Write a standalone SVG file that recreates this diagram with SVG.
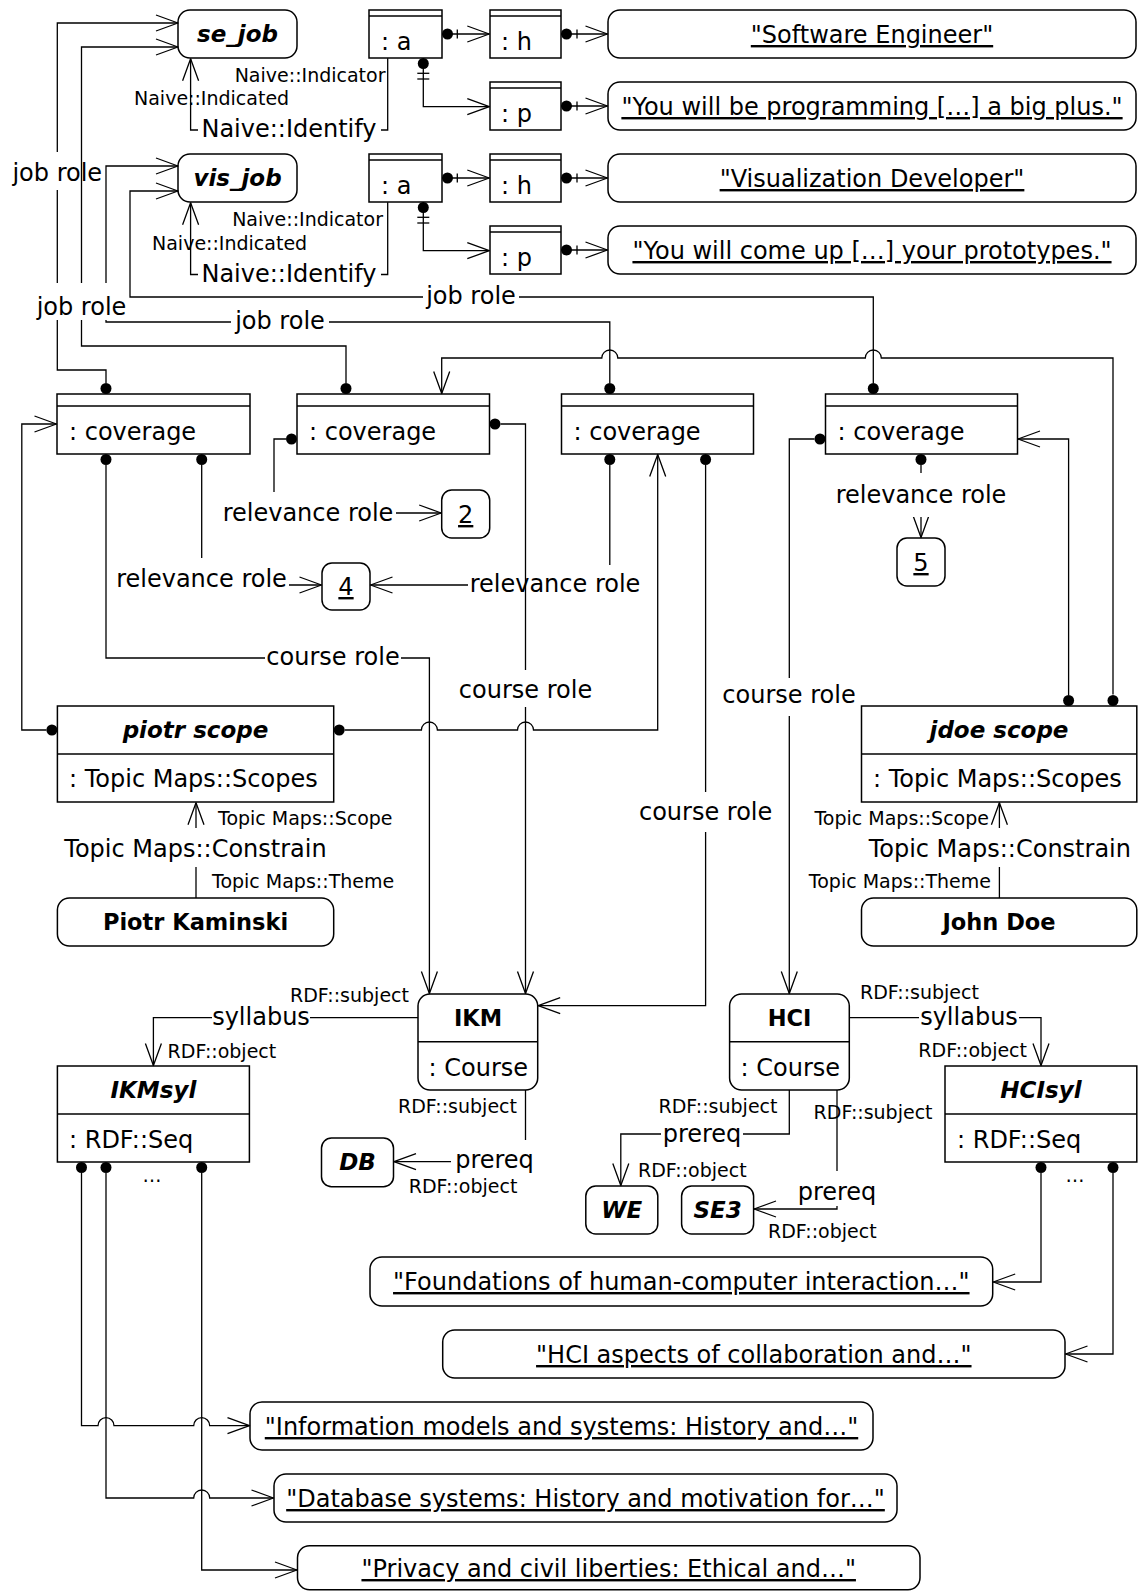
<svg xmlns="http://www.w3.org/2000/svg" width="1138" height="1592" viewBox="0 0 1138 1592" style="font-family:'DejaVu Sans',sans-serif">
<style>
.n{fill:#fff;stroke:#000;stroke-width:1.5}
.ln{fill:none;stroke:#000;stroke-width:1.5}
.c{fill:none;stroke:#000;stroke-width:1.3}
.a{marker-end:url(#arr)}
.d{fill:#000}
.bg{fill:#fff}
text{font-family:'DejaVu Sans',sans-serif;font-size:24px;fill:#000}
.s{font-size:19px}
.b{font-weight:bold;font-size:22.5px}
.bi{font-weight:bold;font-style:italic;font-size:23px}
.u{text-decoration:underline}
.m{text-anchor:middle}
.e{text-anchor:end}
</style>
<defs>
<marker id="arr" markerUnits="userSpaceOnUse" markerWidth="30" markerHeight="20" viewBox="-26 -10 30 20" refX="0" refY="0" orient="auto" overflow="visible">
<path d="M-22,-8 L0,0 L-22,8" fill="none" stroke="#000" stroke-width="1.3" stroke-linejoin="round"/>
</marker>
</defs>
<rect width="1138" height="1592" fill="#fff"/>

<g id="nodes">
<g id="se_job"><rect class="n" x="178" y="10" width="119" height="48" rx="12"/><text class="bi m" x="237.5" y="42">se_job</text></g>
<g id="vis_job"><rect class="n" x="178" y="154" width="119" height="48" rx="12"/><text class="bi m" x="237.5" y="186">vis_job</text></g>
<g id="a1"><rect class="n" x="369" y="10" width="73" height="48"/><line class="ln" x1="369" y1="16" x2="442" y2="16"/><text x="381" y="50">: a</text></g>
<g id="h1"><rect class="n" x="490" y="10" width="71" height="48"/><line class="ln" x1="490" y1="16" x2="561" y2="16"/><text x="501" y="50">: h</text></g>
<g id="p1"><rect class="n" x="490" y="82" width="71" height="48"/><line class="ln" x1="490" y1="88" x2="561" y2="88"/><text x="501" y="122">: p</text></g>
<g id="a2"><rect class="n" x="369" y="154" width="73" height="48"/><line class="ln" x1="369" y1="160" x2="442" y2="160"/><text x="381" y="194">: a</text></g>
<g id="h2"><rect class="n" x="490" y="154" width="71" height="48"/><line class="ln" x1="490" y1="160" x2="561" y2="160"/><text x="501" y="194">: h</text></g>
<g id="p2"><rect class="n" x="490" y="226" width="71" height="48"/><line class="ln" x1="490" y1="232" x2="561" y2="232"/><text x="501" y="266">: p</text></g>
<g id="str_se"><rect class="n" x="608" y="10" width="528" height="48" rx="12"/><text class="m u" x="872" y="43">"Software Engineer"</text></g>
<g id="str_prog"><rect class="n" x="608" y="82" width="528" height="48" rx="12"/><text class="m u" x="872" y="115">"You will be programming […] a big plus."</text></g>
<g id="str_vd"><rect class="n" x="608" y="154" width="528" height="48" rx="12"/><text class="m u" x="872" y="187">"Visualization Developer"</text></g>
<g id="str_proto"><rect class="n" x="608" y="226" width="528" height="48" rx="12"/><text class="m u" x="872" y="259">"You will come up […] your prototypes."</text></g>
<g id="cov1"><rect class="n" x="57" y="394" width="193" height="60"/><line class="ln" x1="57" y1="406" x2="250" y2="406"/><text x="69" y="440">: coverage</text></g>
<g id="cov2"><rect class="n" x="297" y="394" width="192.5" height="60"/><line class="ln" x1="297" y1="406" x2="489.5" y2="406"/><text x="309" y="440">: coverage</text></g>
<g id="cov3"><rect class="n" x="561.5" y="394" width="192" height="60"/><line class="ln" x1="561.5" y1="406" x2="753.5" y2="406"/><text x="573.5" y="440">: coverage</text></g>
<g id="cov4"><rect class="n" x="825.5" y="394" width="192" height="60"/><line class="ln" x1="825.5" y1="406" x2="1017.5" y2="406"/><text x="837.5" y="440">: coverage</text></g>
<g id="v2"><rect class="n" x="441.7" y="490" width="48" height="48" rx="10"/><text class="m u" x="465.7" y="523">2</text></g>
<g id="v4"><rect class="n" x="322" y="563" width="48" height="47" rx="10"/><text class="m u" x="346" y="595">4</text></g>
<g id="v5"><rect class="n" x="897" y="538" width="48" height="48" rx="10"/><text class="m u" x="921" y="571">5</text></g>
<g id="piotr_scope"><rect class="n" x="57.4" y="706" width="276.3" height="96"/><line class="ln" x1="57.4" y1="754" x2="333.7" y2="754"/><text class="bi m" x="195.5" y="738">piotr scope</text><text x="69" y="787">: Topic Maps::Scopes</text></g>
<g id="jdoe_scope"><rect class="n" x="861.5" y="706" width="275.3" height="96"/><line class="ln" x1="861.5" y1="754" x2="1136.8" y2="754"/><text class="bi m" x="999" y="738">jdoe scope</text><text x="873" y="787">: Topic Maps::Scopes</text></g>
<g id="piotr"><rect class="n" x="57.4" y="898" width="276.3" height="48" rx="12"/><text class="b m" x="195.5" y="930">Piotr Kaminski</text></g>
<g id="jdoe"><rect class="n" x="861.5" y="898" width="275.3" height="48" rx="12"/><text class="b m" x="999" y="930">John Doe</text></g>
<g id="ikm"><rect class="n" x="418" y="994" width="119.7" height="96" rx="12"/><line class="ln" x1="418" y1="1041.7" x2="537.7" y2="1041.7"/><text class="b m" x="478" y="1026">IKM</text><text x="428.6" y="1076">: Course</text></g>
<g id="hci"><rect class="n" x="729.6" y="994" width="119.7" height="96" rx="12"/><line class="ln" x1="729.6" y1="1041.7" x2="849.3" y2="1041.7"/><text class="b m" x="789.5" y="1026">HCI</text><text x="740.6" y="1076">: Course</text></g>
<g id="ikmsyl"><rect class="n" x="57.4" y="1066" width="192" height="96"/><line class="ln" x1="57.4" y1="1114" x2="249.4" y2="1114"/><text class="bi m" x="153.4" y="1098">IKMsyl</text><text x="69" y="1148">: RDF::Seq</text></g>
<g id="hcisyl"><rect class="n" x="945" y="1066" width="191.8" height="96"/><line class="ln" x1="945" y1="1114" x2="1136.8" y2="1114"/><text class="bi m" x="1041" y="1098">HCIsyl</text><text x="957" y="1148">: RDF::Seq</text></g>
<g id="db"><rect class="n" x="321.5" y="1138" width="72" height="48.7" rx="10"/><text class="bi m" x="357.5" y="1170">DB</text></g>
<g id="we"><rect class="n" x="585.8" y="1186" width="72" height="48" rx="10"/><text class="bi m" x="621.8" y="1218">WE</text></g>
<g id="se3"><rect class="n" x="681.6" y="1186" width="72" height="48" rx="10"/><text class="bi m" x="717.6" y="1218">SE3</text></g>
<g id="str_found"><rect class="n" x="370" y="1257" width="622.7" height="49" rx="12"/><text class="m u" x="681.3" y="1290">"Foundations of human-computer interaction…"</text></g>
<g id="str_hciasp"><rect class="n" x="442.7" y="1330" width="622.3" height="48" rx="12"/><text class="m u" x="753.8" y="1363">"HCI aspects of collaboration and…"</text></g>
<g id="str_info"><rect class="n" x="250" y="1402" width="623" height="48" rx="12"/><text class="m u" x="561.5" y="1435">"Information models and systems: History and…"</text></g>
<g id="str_dbsys"><rect class="n" x="274" y="1474" width="623" height="48" rx="12"/><text class="m u" x="585.5" y="1507">"Database systems: History and motivation for…"</text></g>
<g id="str_priv"><rect class="n" x="297.5" y="1545.7" width="622.5" height="44" rx="12"/><text class="m u" x="608.7" y="1577">"Privacy and civil liberties: Ethical and…"</text></g>
</g>

<g id="connectors">
<path class="c a" d="M106,383 V370 H57.3 V23 H178"/>
<rect class="bg" x="10" y="152" width="94" height="38"/><text class="m" x="57.3" y="180.5">job role</text>
<path class="c a" d="M609.8,383 V322 H106 V166 H178"/>
<rect class="bg" x="231" y="308" width="98" height="25"/><text class="m" x="280" y="328.5">job role</text>
<path class="c a" d="M346,383 V346 H81.5 V47 H178"/>
<rect class="bg" x="33" y="283" width="95" height="37"/><text class="m" x="81.5" y="315">job role</text>
<path class="c a" d="M873.3,383 V297 H130 V191 H178"/>
<rect class="bg" x="423" y="283" width="96" height="26"/><text class="m" x="471" y="303.5">job role</text>
<path class="c a" d="M1113,694.5 V358 H881.3 A8,8 0 0 0 865.3,358 H617.8 A8,8 0 0 0 601.8,358 H441.7 V393.5"/>
<path class="c a" d="M46.4,730 H21.8 V424 H56.5"/>
<path class="c a" d="M344.7,730 H421.4 A8,8 0 0 1 437.4,730 H517.5 A8,8 0 0 1 533.5,730 H657.7 V454.5"/>
<path class="c a" d="M106,465 V658 H429.4 V993.5"/>
<rect class="bg" x="265" y="645" width="136" height="27"/><text class="m" x="333" y="665">course role</text>
<path class="c a" d="M286,439 H274 V513 H441.2"/>
<rect class="bg" x="221" y="492" width="175" height="36"/><text class="m" x="308" y="521">relevance role</text>
<path class="c a" d="M201.7,465 V585 H321.5"/>
<rect class="bg" x="114" y="558" width="175" height="38"/><text class="m" x="201.5" y="587">relevance role</text>
<path class="c a" d="M609.8,465 V585 H370.5"/>
<rect class="bg" x="468" y="565" width="173" height="35"/><text class="m" x="555" y="592">relevance role</text>
<path class="c a" d="M500.5,424 H525.5 V993.5"/>
<rect class="bg" x="457" y="670" width="136" height="37"/><text class="m" x="525.5" y="698">course role</text>
<path class="c a" d="M705.6,465 V1005.7 H538.2"/>
<rect class="bg" x="637" y="792" width="137" height="40"/><text class="m" x="705.6" y="820">course role</text>
<path class="c a" d="M814.5,439 H789.3 V993.5"/>
<rect class="bg" x="720" y="678" width="138" height="38"/><text class="m" x="789" y="703">course role</text>
<path class="c a" d="M921,465 V537.5"/>
<rect class="bg" x="834" y="473" width="174" height="44"/><text class="m" x="921" y="503">relevance role</text>
<path class="c a" d="M1068.6,695 V439 H1018"/>

<path class="c a" d="M387.7,58.3 V130 H190.6 V58.8"/>
<rect class="bg" x="198" y="115" width="183" height="30"/><text class="m" x="289" y="137">Naive::Identify</text>
<path class="c a" d="M387.7,202.3 V274.5 H190.6 V202.8"/>
<rect class="bg" x="198" y="259" width="183" height="30"/><text class="m" x="289" y="281.5">Naive::Identify</text>

<path class="c a" d="M442,34 H489.3"/><line class="c" x1="457.3" y1="29.5" x2="457.3" y2="38.5"/>
<path class="c a" d="M423.3,58 V106.7 H489.3"/><line class="c" x1="417.3" y1="73.3" x2="429.3" y2="73.3"/><line class="c" x1="417.3" y1="79" x2="429.3" y2="79"/>
<path class="c a" d="M561,34 H607.5"/><line class="c" x1="577" y1="29.5" x2="577" y2="38.5"/>
<path class="c a" d="M561,106 H607.5"/><line class="c" x1="577" y1="101.5" x2="577" y2="110.5"/>
<path class="c a" d="M442,178 H489.3"/><line class="c" x1="457.3" y1="173.5" x2="457.3" y2="182.5"/>
<path class="c a" d="M423.3,202 V250.7 H489.3"/><line class="c" x1="417.3" y1="217.3" x2="429.3" y2="217.3"/><line class="c" x1="417.3" y1="223" x2="429.3" y2="223"/>
<path class="c a" d="M561,178 H607.5"/><line class="c" x1="577" y1="173.5" x2="577" y2="182.5"/>
<path class="c a" d="M561,250 H607.5"/><line class="c" x1="577" y1="245.5" x2="577" y2="254.5"/>

<path class="c a" d="M196,828 V802.8"/><path class="c" d="M196,867 V898"/>
<text class="m" x="195.5" y="857">Topic Maps::Constrain</text>
<path class="c a" d="M999.4,828 V802.8"/><path class="c" d="M999.4,867 V898"/>
<text class="m" x="999.8" y="857">Topic Maps::Constrain</text>

<path class="c a" d="M418,1017.7 H153.4 V1065.5"/>
<rect class="bg" x="212" y="1000" width="98" height="33"/><text class="m" x="261" y="1025">syllabus</text>
<path class="c a" d="M525.5,1090 V1161.7 H394"/>
<rect class="bg" x="451" y="1140" width="87" height="36"/><text class="m" x="494.5" y="1168">prereq</text>
<path class="c a" d="M849.3,1017.7 H1041 V1065.5"/>
<rect class="bg" x="919" y="1000" width="100" height="33"/><text class="m" x="969" y="1025">syllabus</text>
<path class="c a" d="M789.3,1090 V1134 H620.8 V1185.5"/>
<rect class="bg" x="661" y="1118" width="82" height="30"/><text class="m" x="702" y="1141.5">prereq</text>
<path class="c a" d="M837,1090 V1209 H754"/>
<rect class="bg" x="795" y="1171" width="84" height="35"/><text class="m" x="837" y="1200">prereq</text>

<path class="c a" d="M81.5,1173 V1425.7 H98 A8,8 0 0 1 114,1425.7 H193.7 A8,8 0 0 1 209.7,1425.7 H249.5"/>
<path class="c a" d="M106,1173 V1498 H193.7 A8,8 0 0 1 209.7,1498 H273.5"/>
<path class="c a" d="M201.7,1173 V1570 H297"/>
<path class="c a" d="M1041,1173 V1282 H993.2"/>
<path class="c a" d="M1113,1173 V1354 H1065.5"/>

<g class="d">
<circle cx="106" cy="388.5" r="5.5"/><circle cx="346" cy="388.5" r="5.5"/><circle cx="609.8" cy="388.5" r="5.5"/><circle cx="873.3" cy="388.5" r="5.5"/>
<circle cx="106" cy="459.5" r="5.5"/><circle cx="201.7" cy="459.5" r="5.5"/><circle cx="609.8" cy="459.5" r="5.5"/><circle cx="705.6" cy="459.5" r="5.5"/><circle cx="921" cy="459.5" r="5.5"/>
<circle cx="291.5" cy="439" r="5.5"/><circle cx="495" cy="424" r="5.5"/><circle cx="820" cy="439" r="5.5"/>
<circle cx="51.9" cy="730" r="5.5"/><circle cx="339.2" cy="730" r="5.5"/>
<circle cx="1068.6" cy="700.5" r="5.5"/><circle cx="1113" cy="700.5" r="5.5"/>
<circle cx="81.5" cy="1167.5" r="5.5"/><circle cx="106" cy="1167.5" r="5.5"/><circle cx="201.7" cy="1167.5" r="5.5"/>
<circle cx="1041" cy="1167.5" r="5.5"/><circle cx="1113" cy="1167.5" r="5.5"/>
<circle cx="447.5" cy="34" r="5.5"/><circle cx="423.3" cy="63.5" r="5.5"/><circle cx="566.5" cy="34" r="5.5"/><circle cx="566.5" cy="106" r="5.5"/>
<circle cx="447.5" cy="178" r="5.5"/><circle cx="423.3" cy="207.5" r="5.5"/><circle cx="566.5" cy="178" r="5.5"/><circle cx="566.5" cy="250" r="5.5"/>
</g>

<g id="role_labels">
<text class="s e" x="385.5" y="82">Naive::Indicator</text>
<text class="s" x="134" y="105">Naive::Indicated</text>
<text class="s e" x="383" y="226">Naive::Indicator</text>
<text class="s" x="152" y="250">Naive::Indicated</text>
<text class="s" x="218" y="825">Topic Maps::Scope</text>
<text class="s" x="212" y="888">Topic Maps::Theme</text>
<text class="s e" x="989" y="825">Topic Maps::Scope</text>
<text class="s e" x="991" y="888">Topic Maps::Theme</text>
<text class="s e" x="409" y="1002">RDF::subject</text>
<text class="s" x="167.6" y="1058">RDF::object</text>
<text class="s e" x="517" y="1113">RDF::subject</text>
<text class="s e" x="517.4" y="1193">RDF::object</text>
<text class="s" x="860" y="999">RDF::subject</text>
<text class="s e" x="1027" y="1057">RDF::object</text>
<text class="s e" x="777.5" y="1113">RDF::subject</text>
<text class="s" x="638" y="1177">RDF::object</text>
<text class="s" x="813.6" y="1119">RDF::subject</text>
<text class="s" x="768" y="1238">RDF::object</text>
<text class="s m" x="152" y="1182">…</text>
<text class="s m" x="1075" y="1182">…</text>
</g>
</g>
</svg>
